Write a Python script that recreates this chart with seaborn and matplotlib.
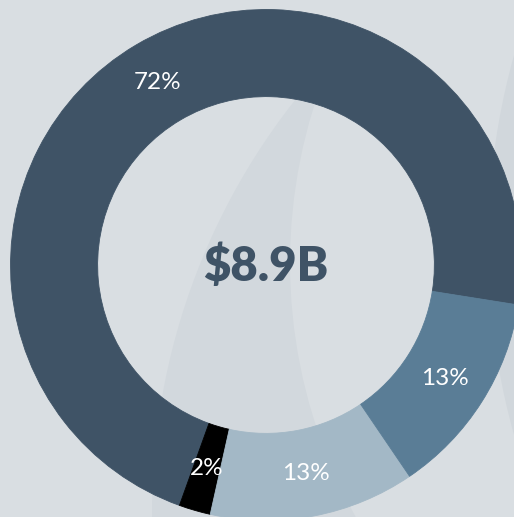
import matplotlib
matplotlib.use("Agg")
import matplotlib.pyplot as plt
from matplotlib.patches import Circle
import seaborn as sns

# Data
categories = ["Segment A", "Segment B", "Segment C", "Segment D"]
shares = [72, 2, 13, 13]
slice_colors = ["#3f5366", "#000000", "#a3b8c6", "#5a7d96"]
total_label = "$8.9B"

sns.set_theme(style="white")
plt.rcParams["font.family"] = ["Lato", "DejaVu Sans"]

BG = "#d9dee2"
palette = sns.color_palette(slice_colors)

fig = plt.figure(figsize=(5.14, 5.17), dpi=100, facecolor=BG)
ax = fig.add_axes([0, 0, 1, 1])
ax.set_facecolor(BG)

# faint decorative background circles
ax.add_patch(Circle((2.157, -0.967), 2.603, facecolor="#d2d8dd", edgecolor="none", zorder=0))
ax.add_patch(Circle((2.147, 0.008), 2.053, facecolor=BG, edgecolor="none", zorder=0.1))
ax.add_patch(Circle((3.636, 0.078), 2.767, facecolor="#d1d7dc", edgecolor="none", zorder=0.2))

wedges, texts, autotexts = ax.pie(
    shares,
    colors=palette,
    startangle=-9,
    counterclock=True,
    radius=1.0,
    autopct=lambda p: f"{p:.0f}%",
    pctdistance=0.83,
    wedgeprops=dict(width=0.341, linewidth=0.6),
    textprops=dict(color="white", fontsize=17.5),
)
for w, c in zip(wedges, palette):
    w.set_edgecolor(c)
    w.set_zorder(2)
for t in autotexts:
    t.set_zorder(3)

ax.text(0, -0.005, total_label, ha="center", va="center", fontsize=34,
        fontweight="heavy", color="#3f5366", zorder=3)

ax.set_xlim(-266 / 255.5, 248 / 255.5)
ax.set_ylim(-252 / 255.5, 265 / 255.5)
ax.set_aspect("auto")
ax.axis("off")

fig.savefig("out.png", dpi=100, facecolor=BG)
